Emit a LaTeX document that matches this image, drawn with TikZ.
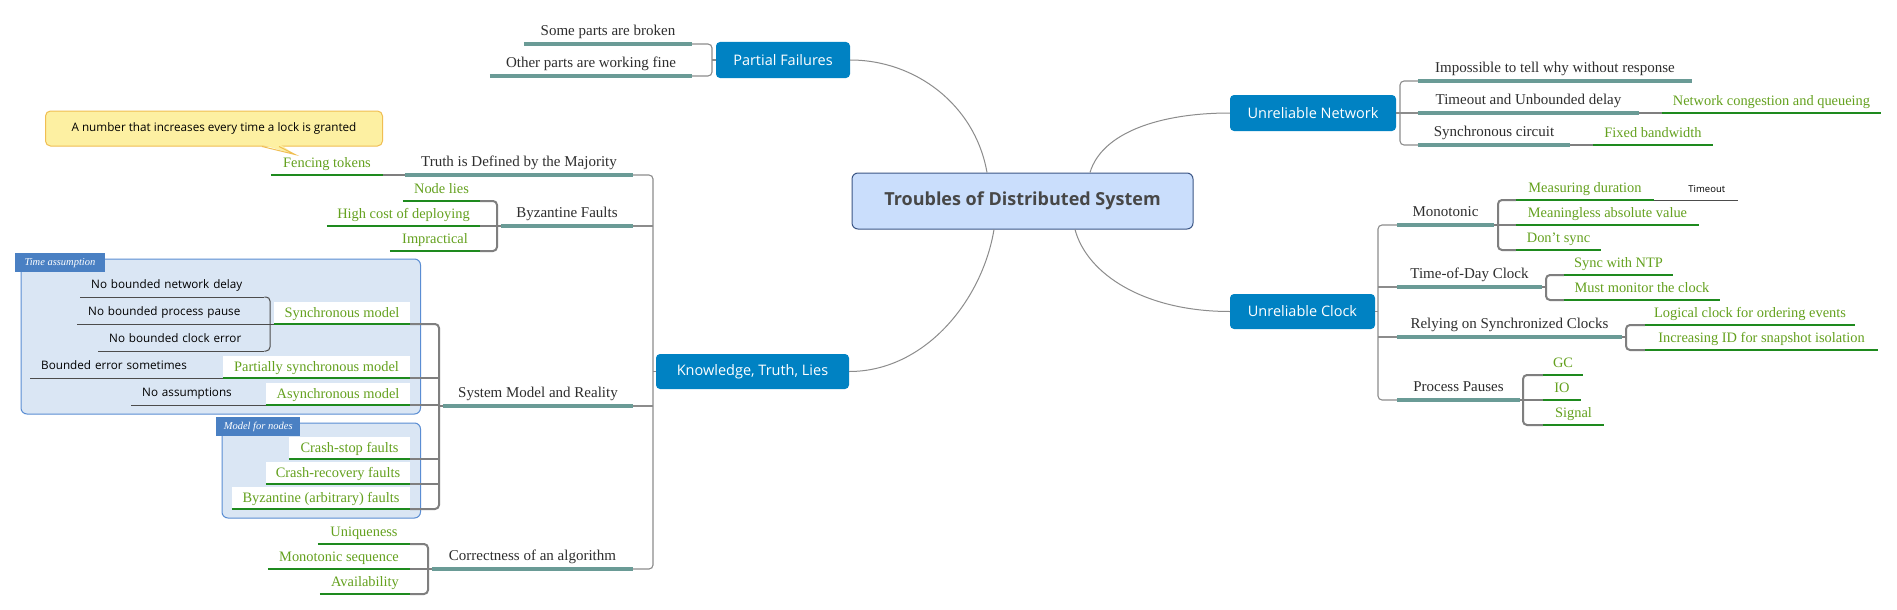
\documentclass[tikz,border=0pt]{standalone}
\usepackage{fontspec}
\setmainfont{Liberation Serif}
\newfontfamily\sansf{Open Sans}
\usetikzlibrary{calc}
\definecolor{tealu}{HTML}{6A9B96}
\definecolor{greenu}{HTML}{1E8A1E}
\definecolor{greent}{HTML}{64A11E}
\definecolor{topicb}{HTML}{0082C3}
\definecolor{cenfill}{HTML}{CADEFC}
\definecolor{cenbord}{HTML}{3C5685}
\definecolor{grpfill}{HTML}{DAE6F4}
\definecolor{grpbord}{HTML}{5A8DD3}
\definecolor{tabfill}{HTML}{4A80C3}
\definecolor{callfill}{HTML}{FDF0A2}
\definecolor{callbord}{HTML}{F0BE52}
\definecolor{txt}{HTML}{2E2E2E}
\definecolor{conn}{HTML}{8C8C8C}
\definecolor{brk}{HTML}{7F7F7F}
\tikzset{
 sub/.style={font=\fontsize{15}{17}\selectfont, text=txt, inner xsep=1pt, inner ysep=8pt, text height=10pt, text depth=0pt, anchor=south},
 leaf/.style={font=\fontsize{14.4}{16}\selectfont, text=greent, inner xsep=1pt, inner ysep=7.5pt, text height=10pt, text depth=0pt, anchor=south},
 note/.style={font=\sansf\fontsize{11.7}{14}\selectfont, text=black, inner xsep=1pt, inner ysep=8pt, text height=9pt, text depth=0pt, anchor=south},
 smallnote/.style={note, font=\sansf\fontsize{9.5}{11}\selectfont, inner ysep=7pt},
 boxed/.style={leaf, fill=white, inner ysep=6pt},
 topic/.style={fill=topicb, rounded corners=4pt, text=white, font=\sansf\fontsize{14.5}{17}\selectfont, inner sep=0pt},
 tealline/.style={draw=tealu, line width=3.6pt},
 greenline/.style={draw=greenu, line width=1.4pt},
 noteline/.style={draw=black!70, line width=1pt},
 curve/.style={draw=conn, line width=1pt},
 br1/.style={draw=conn, line width=1.1pt, rounded corners=4pt},
 br2/.style={draw=brk, line width=2pt, rounded corners=4pt},
 br3/.style={draw=black!70, line width=1pt, rounded corners=4pt},
 grpbox/.style={fill=grpfill, draw=grpbord, line width=1pt, rounded corners=6pt},
 tabbox/.style={fill=tabfill, inner sep=0pt, text=white, font=\itshape\fontsize{10.5}{12}\selectfont, anchor=north west, minimum height=19pt},
}
\newcommand\tpc[6]{\pgfmathsetmacro\tpw{#4-#3}\pgfmathsetmacro\tpx{(#3+#4)/2}\node[#1, minimum width=\tpw pt] (#2) at (\tpx,#5) {#6};}
\newcommand\tpl[6]{\pgfmathsetmacro\tpw{#4-#3-22}\node[#1, text width=\tpw pt, align=left, inner xsep=11pt, anchor=south west] (#2) at (#3,#5) {#6};}
\newcommand\tpr[6]{\pgfmathsetmacro\tpw{#4-#3-26}\node[#1, text width=\tpw pt, align=right, inner xsep=13pt, anchor=south west] (#2) at (#3,#5) {#6};}
\newcommand\ul[2]{\draw[#1] (#2.south west) -- (#2.south east);}
\begin{document}
\begin{tikzpicture}[x=1pt,y=-1pt]
\fill[white] (0,0) rectangle (1897,610);
\useasboundingbox (0,0) rectangle (1897,610);

% group boxes
\draw[grpbox] (21,259) rectangle (420.5,414);
\node[tabbox, minimum width=89.5pt] (tab1) at (15,253) {Time assumption};
\draw[grpbox] (222,423) rectangle (420.5,518);
\node[tabbox, minimum width=84pt] (tab2) at (216,417) {Model for nodes};

% central and main topics
\node[fill=cenfill, draw=cenbord, line width=1pt, rounded corners=6pt, minimum width=341pt, minimum height=56pt, inner sep=0pt, font=\sansf\bfseries\fontsize{18}{21}\selectfont, text=black!72] (cen) at (1022.5,201) {Troubles of Distributed System};
\node[topic, minimum width=134pt, minimum height=36pt] (pf) at (783,60) {Partial Failures};
\node[topic, minimum width=166pt, minimum height=36pt] (un) at (1313,113) {Unreliable Network};
\node[topic, minimum width=145pt, minimum height=35pt] (uc) at (1302.5,311.5) {Unreliable Clock};
\node[topic, minimum width=193pt, minimum height=35pt] (ktl) at (752.5,371.5) {Knowledge, Truth, Lies};

\draw[curve] ($(cen.north)+(-35.5,0)$) .. controls +(-12,-68) and +(65,0) .. (pf.east);
\draw[curve] ($(cen.north)+(67.5,0)$) .. controls +(12,-40) and +(-70,0) .. (un.west);
\draw[curve] ($(cen.south)+(52.5,0)$) .. controls +(12,45) and +(-85,0) .. (uc.west);
\draw[curve] ($(cen.south)+(-28.5,0)$) .. controls +(-12,72) and +(75,0) .. (ktl.east);

% callout
\node[fill=callfill, draw=callbord, line width=1pt, rounded corners=5pt, minimum width=337pt, minimum height=35pt, inner sep=0pt, font=\sansf\fontsize{11.7}{14}\selectfont] (call) at (214,128.5) {A number that increases every time a lock is granted};
\fill[callfill] ($(call.south)+(47,-2)$) -- ($(call.south)+(81,8)$) -- ($(call.south)+(66,-2)$) -- cycle;
\draw[callbord, line width=1pt] ($(call.south)+(48,0)$) -- ($(call.south)+(81,8)$) -- ($(call.south)+(65,0)$);

% Partial failures
\tpc{sub}{pf1}{524}{692}{44}{Some parts are broken}
\tpc{sub}{pf2}{490}{692}{76}{Other parts are working fine}
\coordinate (pfb) at (712,60);
\draw[br1] (pf1.south east) -| (pfb) |- (pf2.south east);
\draw[br1] (pfb) -- (pf.west);
\ul{tealline}{pf1}\ul{tealline}{pf2}

% Unreliable network
\tpc{sub}{un1}{1418}{1692}{81}{Impossible to tell why without response}
\tpc{sub}{un2}{1418}{1639}{113}{Timeout and Unbounded delay}
\tpc{sub}{un3}{1418}{1570}{145}{Synchronous circuit}
\tpc{leaf}{un2a}{1662}{1881}{113}{Network congestion and queueing}
\tpc{leaf}{un3a}{1593}{1713}{145}{Fixed bandwidth}
\coordinate (unb) at (1400,113);
\draw[br1] (un1.south west) -| (unb) |- (un3.south west);
\draw[br1] (un.east) -- (un2.south west);
\draw[br2] (un2.south east) -- (un2a.south west);
\draw[br2] (un3.south east) -- (un3a.south west);
\ul{tealline}{un1}\ul{tealline}{un2}\ul{tealline}{un3}
\ul{greenline}{un2a}\ul{greenline}{un3a}

% Unreliable clock
\tpc{sub}{uc1}{1397}{1494}{225}{Monotonic}
\tpc{leaf}{uc1a}{1516}{1654}{200}{Measuring duration}
\tpr{smallnote}{uc1a1}{1654}{1738}{200}{Timeout}
\tpc{leaf}{uc1b}{1516}{1699}{225}{Meaningless absolute value}
\tpc{leaf}{uc1c}{1516}{1601}{250}{Don't sync}
\tpc{sub}{uc2}{1397}{1542}{287}{Time-of-Day Clock}
\tpc{leaf}{uc2a}{1564}{1673}{275}{Sync with NTP}
\tpc{leaf}{uc2b}{1564}{1720}{300}{Must monitor the clock}
\tpc{sub}{uc3}{1397}{1622}{337}{Relying on Synchronized Clocks}
\tpc{leaf}{uc3a}{1645}{1855}{325}{Logical clock for ordering events}
\tpc{leaf}{uc3b}{1645}{1878}{350}{Increasing ID for snapshot isolation}
\tpc{sub}{uc4}{1397}{1520}{400}{Process Pauses}
\tpc{leaf}{uc4a}{1543}{1583}{375}{GC}
\tpc{leaf}{uc4b}{1543}{1581}{400}{IO}
\tpc{leaf}{uc4c}{1543}{1604}{425}{Signal}
\coordinate (ucb) at (1378,311.5);
\draw[br1] (uc1.south west) -| (ucb) |- (uc4.south west);
\draw[br1] (uc.east) -- (ucb);
\draw[br1] (uc2.south west) -- (uc2.south west -| ucb);
\draw[br1] (uc3.south west) -- (uc3.south west -| ucb);
\coordinate (m1) at (1498,225);
\draw[br2] (uc1a.south west) -| (m1) |- (uc1c.south west);
\draw[br2] (uc1.south east) -- (uc1b.south west);
\coordinate (m2) at (1546,287);
\draw[br2] (uc2a.south west) -| (m2) |- (uc2b.south west);
\draw[br2] (uc2.south east) -- (m2);
\coordinate (m3) at (1626,337);
\draw[br2] (uc3a.south west) -| (m3) |- (uc3b.south west);
\draw[br2] (uc3.south east) -- (m3);
\coordinate (m4) at (1523,400);
\draw[br2] (uc4a.south west) -| (m4) |- (uc4c.south west);
\draw[br2] (uc4.south east) -- (uc4b.south west);
\ul{tealline}{uc1}\ul{tealline}{uc2}\ul{tealline}{uc3}\ul{tealline}{uc4}
\ul{greenline}{uc1a}\ul{noteline}{uc1a1}\ul{greenline}{uc1b}\ul{greenline}{uc1c}
\ul{greenline}{uc2a}\ul{greenline}{uc2b}\ul{greenline}{uc3a}\ul{greenline}{uc3b}
\ul{greenline}{uc4a}\ul{greenline}{uc4b}\ul{greenline}{uc4c}

% Knowledge, truth, lies
\tpc{sub}{k1}{405}{633}{175}{Truth is Defined by the Majority}
\tpc{leaf}{k1a}{271}{383}{175}{Fencing tokens}
\tpc{sub}{k2}{501}{633}{226}{Byzantine Faults}
\tpc{leaf}{k2a}{403}{480}{201}{Node lies}
\tpc{leaf}{k2b}{327}{480}{226}{High cost of deploying}
\tpc{leaf}{k2c}{390}{480}{251}{Impractical}
\tpc{sub}{k3}{443}{633}{406}{System Model and Reality}
\tpc{boxed}{sm1}{274}{410}{324}{Synchronous model}
\tpc{boxed}{sm2}{223}{410}{378}{Partially synchronous model}
\tpc{boxed}{sm3}{266}{410}{405}{Asynchronous model}
\tpc{boxed}{sm4}{289}{410}{459}{Crash-stop faults}
\tpc{boxed}{sm5}{266}{410}{484}{Crash-recovery faults}
\tpc{boxed}{sm6}{232}{410}{509}{Byzantine (arbitrary) faults}
\tpl{note}{ta1}{80}{264}{297}{No bounded network delay}
\tpl{note}{ta2}{77}{264}{324}{No bounded process pause}
\tpl{note}{ta3}{98}{264}{351}{No bounded clock error}
\tpl{note}{ta4}{30}{223}{378}{Bounded error sometimes}
\tpl{note}{ta5}{131}{266}{405}{No assumptions}
\tpc{sub}{k4}{432}{633}{569}{Correctness of an algorithm}
\tpc{leaf}{k4a}{318}{410}{544}{Uniqueness}
\tpc{leaf}{k4b}{268}{410}{569}{Monotonic sequence}
\tpc{leaf}{k4c}{320}{410}{594}{Availability}

\coordinate (kb) at (653,371.5);
\draw[br1] (k1.south east) -| (kb) |- (k4.south east);
\draw[br1] (ktl.west) -- (kb);
\draw[br1] (k2.south east) -- (k2.south east -| kb);
\draw[br1] (k3.south east) -- (k3.south east -| kb);
\draw[br2] (k1a.south east) -- (k1.south west);
\coordinate (m5) at (497,226);
\draw[br2] (k2a.south east) -| (m5) |- (k2c.south east);
\draw[br2] (k2b.south east) -- (k2.south west);
\coordinate (m6) at (439,406);
\draw[br2] (sm1.south east) -| (m6) |- (sm6.south east);
\draw[br2] (m6) -- (k3.south west);
\draw[br2] (sm2.south east) -- (sm2.south east -| m6);
\draw[br2] (sm3.south east) -- (sm3.south east -| m6);
\draw[br2] (sm4.south east) -- (sm4.south east -| m6);
\draw[br2] (sm5.south east) -- (sm5.south east -| m6);
\coordinate (m7) at (428,569);
\draw[br2] (k4a.south east) -| (m7) |- (k4c.south east);
\draw[br2] (k4b.south east) -- (k4.south west);
\coordinate (m8) at (270,324);
\draw[br3] (ta1.south east) -| (m8) |- (ta3.south east);
\draw[br3] (ta2.south east) -- (sm1.south west);
\draw[br3] (ta4.south east) -- (sm2.south west);
\draw[br3] (ta5.south east) -- (sm3.south west);
\ul{tealline}{k1}\ul{tealline}{k2}\ul{tealline}{k3}\ul{tealline}{k4}
\ul{greenline}{k1a}\ul{greenline}{k2a}\ul{greenline}{k2b}\ul{greenline}{k2c}
\ul{greenline}{sm1}\ul{greenline}{sm2}\ul{greenline}{sm3}\ul{greenline}{sm4}\ul{greenline}{sm5}\ul{greenline}{sm6}
\ul{noteline}{ta1}\ul{noteline}{ta2}\ul{noteline}{ta3}\ul{noteline}{ta4}\ul{noteline}{ta5}
\ul{greenline}{k4a}\ul{greenline}{k4b}\ul{greenline}{k4c}
\end{tikzpicture}
\end{document}
